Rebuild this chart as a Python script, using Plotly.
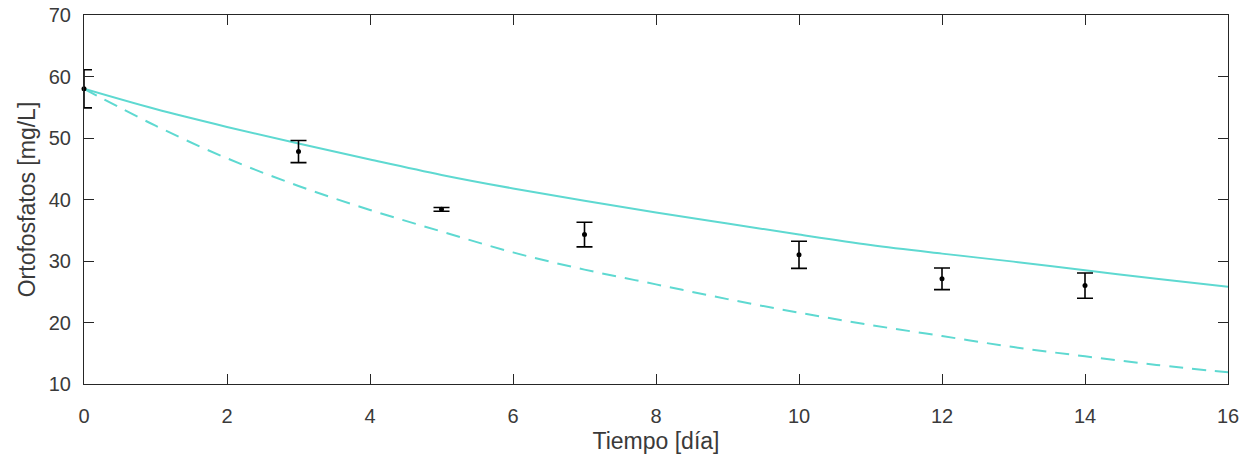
import plotly.graph_objects as go

# Measured orthophosphate concentrations (mean and standard deviation)
dias_medidos = [0, 3, 5, 7, 10, 12, 14]
ortofosfatos = [58.0, 47.8, 38.4, 34.3, 31.0, 27.1, 26.0]
desviacion = [3.1, 1.8, 0.3, 2.0, 2.2, 1.75, 2.05]

# Model curves sampled each day
dias_modelo = list(range(0, 17))
modelo_continuo = [58.0, 54.7, 51.8, 49.1, 46.5, 44.0, 41.8, 39.8, 37.9,
                   36.1, 34.3, 32.6, 31.2, 29.9, 28.5, 27.1, 25.8]
modelo_discontinuo = [58.0, 52.0, 46.7, 42.2, 38.3, 34.8, 31.4, 28.6, 26.2,
                      23.8, 21.6, 19.6, 17.8, 16.0, 14.5, 13.1, 11.9]

x_ticks = list(range(0, 17, 2))
y_ticks = list(range(10, 71, 10))

CIAN = "#5ed9d1"
EJE = "#262626"
TEXTO = "#3a3a3a"
FUENTE = "Liberation Sans, Arial, sans-serif"

fig = go.Figure()

fig.add_trace(go.Scatter(
    x=dias_modelo, y=modelo_continuo, mode="lines",
    line=dict(color=CIAN, width=2, shape="spline"),
    showlegend=False,
))
fig.add_trace(go.Scatter(
    x=dias_modelo, y=modelo_discontinuo, mode="lines",
    line=dict(color=CIAN, width=2, dash="14px,9px", shape="spline"),
    showlegend=False,
))
fig.add_trace(go.Scatter(
    x=dias_medidos, y=ortofosfatos, mode="markers",
    marker=dict(color="black", size=5),
    error_y=dict(type="data", array=desviacion, visible=True,
                 color="black", thickness=1.6, width=8),
    showlegend=False, cliponaxis=False,
))

eje_comun = dict(
    showline=True, linecolor=EJE, linewidth=1, mirror="allticks",
    ticks="inside", ticklen=10, tickwidth=1, tickcolor=EJE,
    showgrid=False, zeroline=False,
    tickfont=dict(family=FUENTE, size=20, color=TEXTO),
)

fig.update_xaxes(
    range=[0, 16], tickvals=x_ticks, ticktext=[str(v) for v in x_ticks],
    ticklabelstandoff=14,
    title=dict(text="Tiempo [día]", font=dict(family=FUENTE, size=23, color=TEXTO),
               standoff=6),
    **eje_comun,
)
fig.update_yaxes(
    range=[10, 70], tickvals=y_ticks, ticktext=[str(v) for v in y_ticks],
    ticklabelstandoff=8,
    title=dict(text="Ortofosfatos [mg/L]", font=dict(family=FUENTE, size=23, color=TEXTO),
               standoff=6),
    **eje_comun,
)

fig.update_layout(
    width=1253, height=464,
    margin=dict(l=84, r=25, t=15, b=80, autoexpand=False),
    paper_bgcolor="white", plot_bgcolor="white",
)

fig.write_html("out.html")
